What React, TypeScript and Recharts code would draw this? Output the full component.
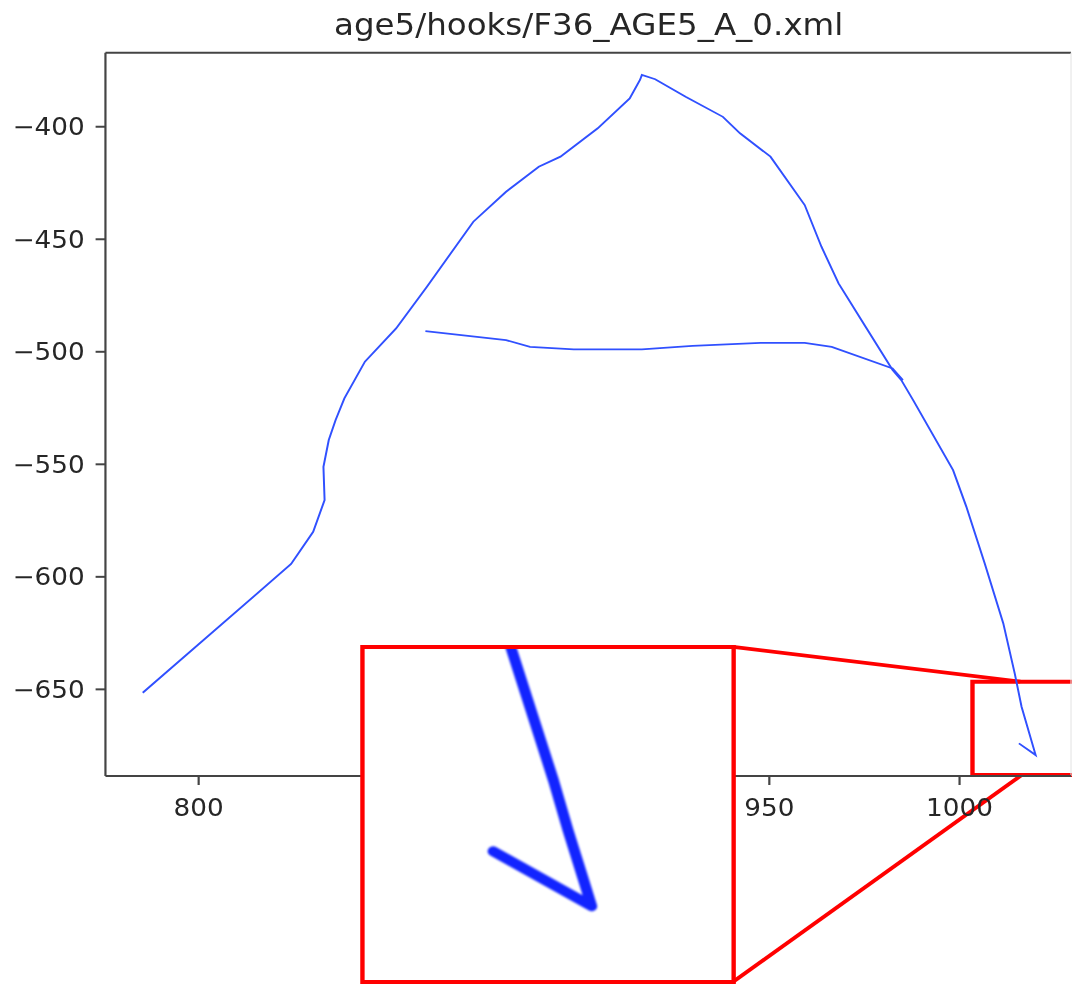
import {
  LineChart,
  Line,
  XAxis,
  YAxis,
  ReferenceArea,
  ReferenceLine,
} from "recharts";

// outer stroke of the drawing (pen order)
const outlineX = [
  785.3, 824.3, 830.1, 833.1, 832.8, 834.2, 836.0, 838.3, 843.7, 851.9, 860.0,
  872.2, 880.8, 889.4, 895.1, 904.9, 913.3, 916.0, 916.5, 920.0, 928.0, 937.8,
  942.3, 950.3, 959.3, 963.7, 968.2, 975.3, 982.4, 984.7, 987.8, 998.3, 1001.8,
  1006.6, 1011.5, 1014.5, 1016.3, 1020.0, 1015.6,
];
const outlineY = [
  -651.5, -594.3, -580.0, -565.9, -551.1, -539.2, -530.3, -520.7, -504.4,
  -489.6, -471.1, -442.2, -428.9, -417.8, -413.3, -400.7, -387.4, -379.2,
  -377.0, -378.9, -386.7, -395.6, -402.9, -413.3, -434.8, -453.3, -469.6,
  -488.9, -508.1, -512.6, -521.5, -552.6, -568.9, -594.0, -620.7, -642.9,
  -657.7, -679.2, -674.0,
];

// cross bar
const crossX = [
  859.6, 880.8, 887.1, 898.6, 916.5, 929.8, 947.7, 959.3, 966.4, 982.4, 985.1,
];
const crossY = [
  -490.8, -494.8, -497.8, -498.9, -498.9, -497.4, -496.0, -496.0, -497.8,
  -507.4, -512.6,
];

// hook as it shows in the magnified inset
const zoomX = [1014.07, 1017.62, 1018.69, 1019.84, 1020.43, 1013.19];
const zoomY = [-644.0, -662.71, -668.91, -675.1, -678.32, -671.51];

const xTicks = [800, 850, 900, 950, 1000];
const yTicks = [-400, -450, -500, -550, -600, -650];

const title = "age5/hooks/F36_AGE5_A_0.xml";

const toPoints = (xs: number[], ys: number[]) =>
  xs.map((x, i) => ({ x, y: ys[i] }));

const outline = toPoints(outlineX, outlineY);
const cross = toPoints(crossX, crossY);
const zoomHook = toPoints(zoomX, zoomY);

// the source image is a bit wider than it is tall, so the whole thing is stretched
const STRETCH = 1.095;
const W = 980;
const H = 986;

const xDomain: [number, number] = [775.5, 1029.3];
const yDomain: [number, number] = [-688.5, -367.1];
const zoomXDomain: [number, number] = [1003.6, 1030.8];
const zoomYDomain: [number, number] = [-687.7, -646.2];

const minus = (v: number) => String(v).replace("-", "\u2212");

const axisColor = "#444";
const textColor = "#262626";
const lineColor = "#3050ff";

export default function App() {
  return (
    <div
      style={{
        width: 1072,
        height: 986,
        overflow: "hidden",
        background: "#fff",
        fontFamily: "DejaVu Sans",
      }}
    >
      <style>{"body{margin:0}"}</style>
      <div
        style={{
          position: "relative",
          width: W,
          height: H,
          transform: `scaleX(${STRETCH})`,
          transformOrigin: "0 0",
        }}
      >
        <svg
          width={W}
          height={50}
          style={{ position: "absolute", left: 0, top: 0 }}
        >
          <text
            x={537.6}
            y={35.5}
            textAnchor="middle"
            fontSize={29.7}
            fill={textColor}
            fontFamily="DejaVu Sans"
          >
            {title}
          </text>
        </svg>

        <div style={{ position: "absolute", left: 0, top: 0 }}>
          <LineChart
            width={W}
            height={H}
            margin={{ top: 52.7, right: 1.9, bottom: 150, left: 0 }}
          >
            <XAxis
              type="number"
              dataKey="x"
              domain={xDomain}
              ticks={xTicks}
              allowDataOverflow
              height={60}
              tickSize={9}
              tickMargin={13.5}
              stroke={axisColor}
              axisLine={{ stroke: axisColor, strokeWidth: 2 }}
              tickLine={{ stroke: axisColor, strokeWidth: 2 }}
              tick={{ fill: textColor, fontSize: 24, fontFamily: "DejaVu Sans" }}
            />
            <YAxis
              type="number"
              domain={yDomain}
              ticks={yTicks}
              allowDataOverflow
              width={96.3}
              tickSize={9}
              tickMargin={10}
              tickFormatter={minus}
              stroke={axisColor}
              axisLine={{ stroke: axisColor, strokeWidth: 2 }}
              tickLine={{ stroke: axisColor, strokeWidth: 2 }}
              tick={{ fill: textColor, fontSize: 24, fontFamily: "DejaVu Sans" }}
            />
            {/* top and right spines */}
            <ReferenceLine
              y={yDomain[1]}
              ifOverflow="visible"
              stroke={axisColor}
              strokeWidth={2}
            />
            <ReferenceLine
              x={xDomain[1]}
              ifOverflow="visible"
              stroke="#e4e4e4"
              strokeWidth={1}
            />
            <ReferenceArea
              x1={1003.4}
              x2={1031}
              y1={-688.1}
              y2={-646.6}
              ifOverflow="visible"
              fill="none"
              fillOpacity={0}
              stroke="#ff0000"
              strokeWidth={4}
            />
            <ReferenceLine
              segment={[
                { x: 940.5, y: -631.1 },
                { x: 1016, y: -646.6 },
              ]}
              ifOverflow="visible"
              stroke="#ff0000"
              strokeWidth={3.8}
            />
            <ReferenceLine
              segment={[
                { x: 940.5, y: -779.9 },
                { x: 1016.3, y: -688.1 },
              ]}
              ifOverflow="visible"
              stroke="#ff0000"
              strokeWidth={3.8}
            />
            <Line
              data={outline}
              dataKey="y"
              type="linear"
              stroke={lineColor}
              strokeWidth={1.8}
              dot={false}
              isAnimationActive={false}
            />
            <Line
              data={cross}
              dataKey="y"
              type="linear"
              stroke={lineColor}
              strokeWidth={1.8}
              dot={false}
              isAnimationActive={false}
            />
          </LineChart>
        </div>

        {/* magnified view of the hook */}
        <div
          style={{
            position: "absolute",
            left: 331.2,
            top: 646.7,
            width: 338.4,
            height: 335,
            background: "#fff",
          }}
        >
          <div style={{ filter: "blur(0.8px)" }}>
            <LineChart
              width={338.4}
              height={335}
              margin={{ top: 0, right: 0, bottom: 0, left: 0 }}
            >
              <XAxis
                type="number"
                dataKey="x"
                domain={zoomXDomain}
                allowDataOverflow
                hide
              />
              <YAxis type="number" domain={zoomYDomain} allowDataOverflow hide />
              <Line
                data={zoomHook}
                dataKey="y"
                type="linear"
                stroke="#1224ff"
                strokeWidth={10}
                strokeLinejoin="round"
                strokeLinecap="round"
                dot={false}
                isAnimationActive={false}
              />
            </LineChart>
          </div>
          <div
            style={{
              position: "absolute",
              left: -2,
              top: -2,
              right: -2,
              bottom: -2,
              border: "4px solid #ff0000",
              boxSizing: "border-box",
              pointerEvents: "none",
            }}
          />
        </div>
      </div>
    </div>
  );
}
